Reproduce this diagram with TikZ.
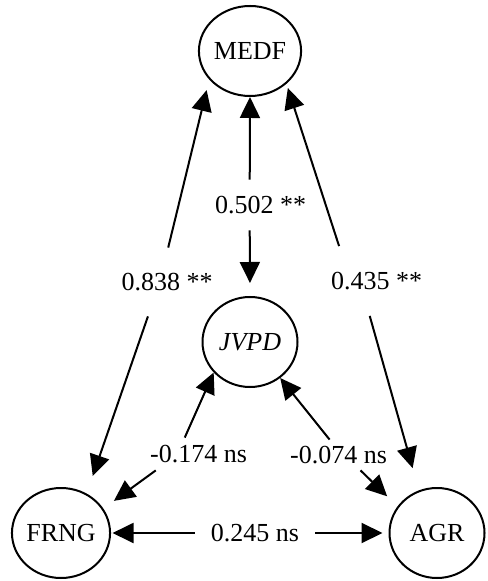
\documentclass[tikz,border=0pt]{standalone}
\usepackage{fontspec}
\setmainfont{Liberation Serif}
\usetikzlibrary{arrows.meta,shapes.geometric}

\begin{document}
\begin{tikzpicture}[x=0.5pt,y=-0.5pt,
    var/.style={draw,ellipse,line width=1pt,minimum width=47.5pt,minimum height=45pt,inner sep=0pt,font=\fontsize{13}{15}\selectfont},
    coef/.style={inner sep=0pt,font=\fontsize{13}{15}\selectfont},
    link/.style={-{Triangle[length=10.5pt,width=10pt]},line width=1pt}]
  \useasboundingbox (0,0) rectangle (487,581);
  \node[var] (medf) at (250,51) {MEDF};
  \node[var] (jvpd) at (250,342) {\textit{JVPD}};
  \node[var] (frng) at (61,533) {FRNG};
  \node[var] (agr) at (437,533) {AGR};
  \node[coef,minimum width=47.5pt,minimum height=25pt] (mj) at (260.5,205) {0.502 **};
  \node[coef,minimum width=45pt,minimum height=34pt] (mf) at (167,282) {0.838 **};
  \node[coef,minimum width=46.5pt,minimum height=34.5pt] (ma) at (376.5,281) {0.435 **};
  \node[coef,minimum width=48.5pt,minimum height=16pt] (jf) at (198.5,454) {-0.174 ns};
  \node[coef,minimum width=48.5pt,minimum height=15pt] (ja) at (338.5,455) {-0.074 ns};
  \node[coef,minimum width=60pt,minimum height=10pt] (fa) at (255,533) {0.245 ns};
  \draw[link] (mj.113) -- (medf.south);
  \draw[link,shorten >=6.5pt] (mj.247) -- (jvpd.north);
  \draw[link,shorten >=5.4pt] (mf.88) -- (medf.215);
  \draw[link,shorten >=9.3pt] (mf.241) -- (frng.57);
  \draw[link,shorten >=2.2pt] (ma.137) -- (medf.318);
  \draw[link,shorten >=11.5pt] (ma.259) -- (agr.113);
  \draw[link] (jf.130) -- (jvpd.220);
  \draw[link,shorten >=6.5pt] (jf.201) -- (frng.30);
  \draw[link] (ja.120) -- (jvpd.310);
  \draw[link,shorten >=7.2pt] (ja.325) -- (agr.146);
  \draw[link,shorten >=0.75pt] (fa) -- (frng);
  \draw[link,shorten >=3pt] (fa) -- (agr);
\end{tikzpicture}
\end{document}
